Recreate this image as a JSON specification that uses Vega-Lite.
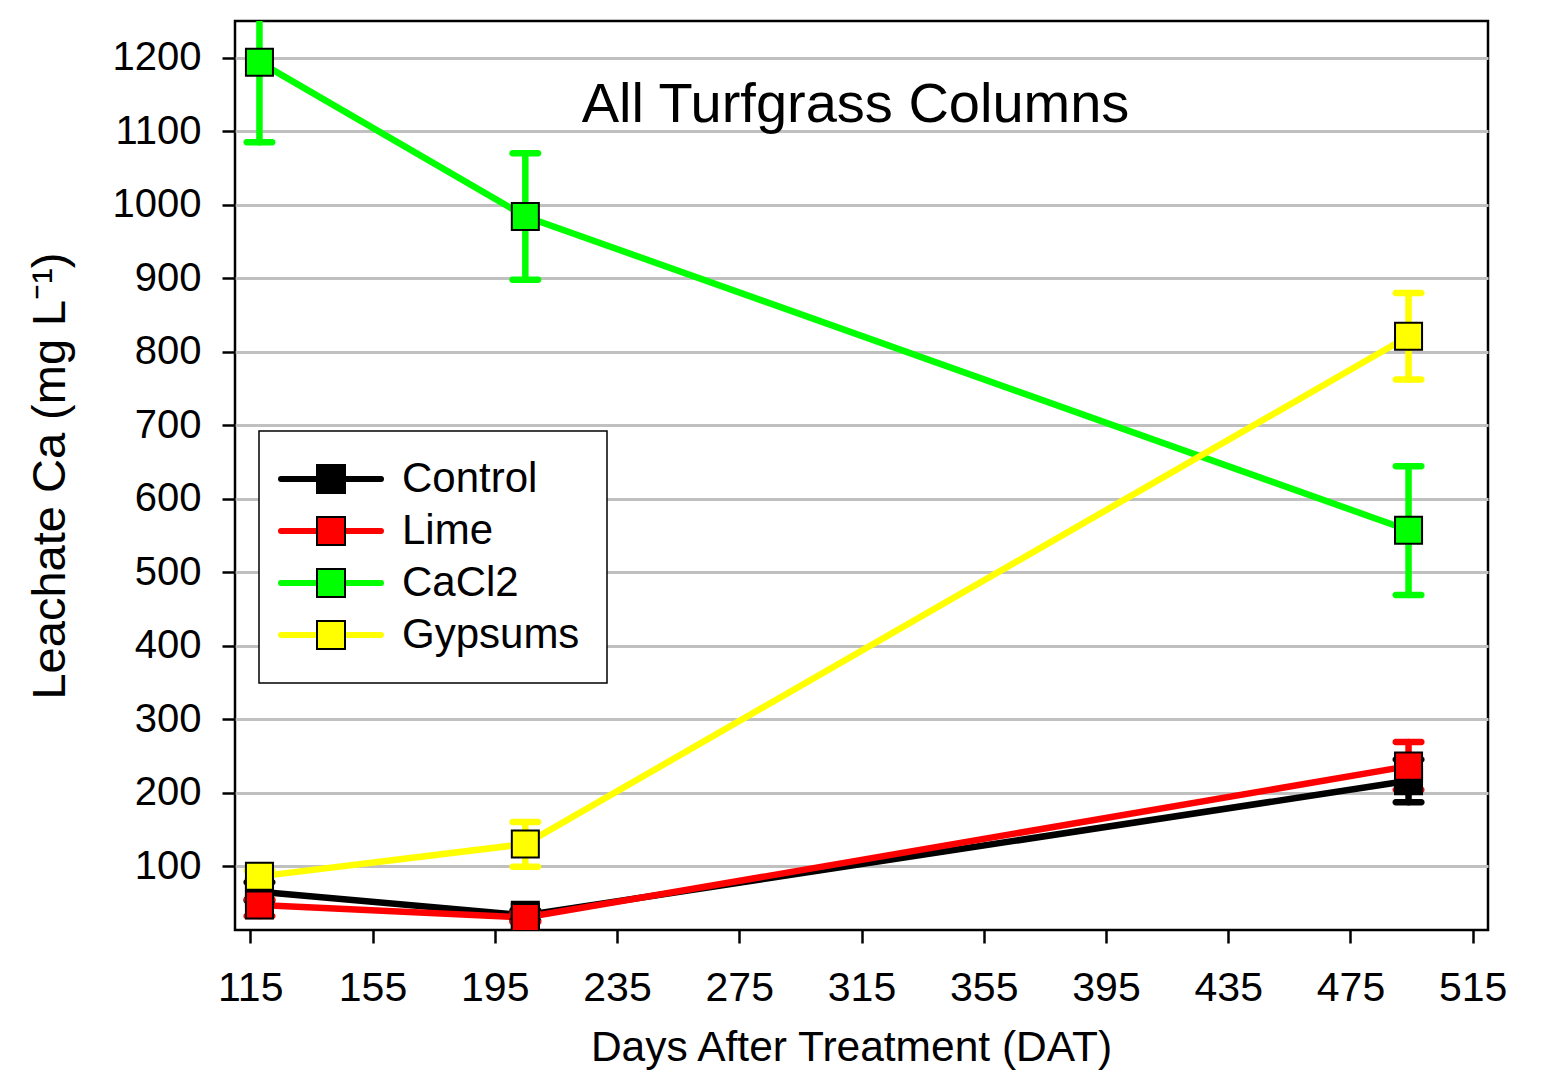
{
  "$schema": "https://vega.github.io/schema/vega-lite/v6.json",
  "width": 1253,
  "height": 909,
  "autosize": {"type": "none"},
  "padding": {"left": 235, "top": 21, "right": 66, "bottom": 146},
  "background": "white",
  "title": {
    "text": "All Turfgrass Columns",
    "font": "Liberation Sans",
    "fontSize": 56,
    "fontWeight": "normal",
    "color": "black",
    "anchor": "middle",
    "frame": "group",
    "baseline": "alphabetic",
    "offset": -157,
    "dx": -6
  },
  "config": {
    "view": {"stroke": "black", "strokeWidth": 2.5},
    "font": "Liberation Sans",
    "axis": {
      "labelFont": "Liberation Sans",
      "titleFont": "Liberation Sans",
      "labelColor": "black",
      "titleColor": "black",
      "titleFontWeight": "normal",
      "tickColor": "black",
      "tickWidth": 2.5,
      "tickSize": 13,
      "domain": false,
      "labelFlush": false,
      "labelOverlap": false
    }
  },
  "data": {
    "values": [
      {"series": "Control", "day": 118, "value": 65, "lo": 53, "hi": 78},
      {"series": "Control", "day": 205, "value": 33, "lo": 26, "hi": 40},
      {"series": "Control", "day": 494, "value": 216, "lo": 187, "hi": 245},
      {"series": "Lime", "day": 118, "value": 47, "lo": 32, "hi": 55},
      {"series": "Lime", "day": 205, "value": 30, "lo": 24, "hi": 36},
      {"series": "Lime", "day": 494, "value": 236, "lo": 204, "hi": 269},
      {"series": "CaCl2", "day": 118, "value": 1194, "lo": 1085, "hi": 1303},
      {"series": "CaCl2", "day": 205, "value": 984, "lo": 898, "hi": 1070},
      {"series": "CaCl2", "day": 494, "value": 557, "lo": 469, "hi": 644},
      {"series": "Gypsums", "day": 118, "value": 86, "lo": 78, "hi": 94},
      {"series": "Gypsums", "day": 205, "value": 130, "lo": 99, "hi": 160},
      {"series": "Gypsums", "day": 494, "value": 821, "lo": 762, "hi": 880}
    ]
  },
  "encoding": {
    "x": {
      "field": "day", "type": "quantitative",
      "scale": {"domain": [110, 520], "nice": false, "zero": false},
      "axis": {
        "values": [115, 155, 195, 235, 275, 315, 355, 395, 435, 475, 515],
        "format": "d",
        "grid": false,
        "labelFontSize": 41,
        "labelPadding": 25,
        "title": "Days After Treatment (DAT)",
        "titleFontSize": 42.5,
        "titlePadding": 18,
        "titleX": 616
      }
    },
    "y": {
      "field": "value", "type": "quantitative",
      "scale": {"domain": [13, 1250], "nice": false, "zero": false},
      "axis": {
        "values": [100, 200, 300, 400, 500, 600, 700, 800, 900, 1000, 1100, 1200],
        "format": "d",
        "grid": true,
        "gridColor": "#c0c0c0",
        "gridWidth": 3,
        "labelFontSize": 40,
        "labelPadding": 21,
        "title": "Leachate Ca (mg L⁻¹)",
        "titleFontSize": 47,
        "titlePadding": 38
      }
    }
  },
  "layer": [
    {
      "mark": {"type": "line", "strokeWidth": 6.5, "clip": true},
      "encoding": {
        "color": {
          "field": "series", "type": "nominal",
          "sort": ["Control", "Lime", "CaCl2", "Gypsums"],
          "scale": {"range": ["#000000", "#ff0000", "#00ff00", "#ffff00"]},
          "legend": {
            "orient": "none", "legendX": 24, "legendY": 410, "title": null,
            "symbolType": "M-2.778,0H2.778",
            "symbolSize": 1296,
            "symbolStrokeWidth": 6,
            "symbolOffset": 24,
            "labelOffset": 50,
            "labelLimit": 0,
            "labelFont": "Liberation Sans", "labelFontSize": 42, "labelColor": "black",
            "padding": 27, "rowPadding": 10,
            "strokeColor": "black", "fillColor": "white",
            "encode": {
              "symbols": {"update": {"strokeCap": {"value": "round"}}},
              "legend": {"update": {"strokeWidth": {"value": 1.5}}}
            }
          }
        }
      }
    },
    {
      "mark": {"type": "rule", "strokeWidth": 6.5, "clip": true, "strokeCap": "round"},
      "encoding": {
        "y": {"field": "lo", "type": "quantitative"},
        "y2": {"field": "hi"},
        "color": {"field": "series", "type": "nominal", "sort": ["Control", "Lime", "CaCl2", "Gypsums"], "legend": null}
      }
    },
    {
      "mark": {"type": "tick", "orient": "horizontal", "size": 32, "thickness": 6.5, "cornerRadius": 3, "opacity": 1, "clip": true},
      "encoding": {
        "y": {"field": "lo", "type": "quantitative"},
        "color": {"field": "series", "type": "nominal", "sort": ["Control", "Lime", "CaCl2", "Gypsums"], "legend": null}
      }
    },
    {
      "mark": {"type": "tick", "orient": "horizontal", "size": 32, "thickness": 6.5, "cornerRadius": 3, "opacity": 1, "clip": true},
      "encoding": {
        "y": {"field": "hi", "type": "quantitative"},
        "color": {"field": "series", "type": "nominal", "sort": ["Control", "Lime", "CaCl2", "Gypsums"], "legend": null}
      }
    },
    {
      "mark": {"type": "point", "shape": "square", "filled": true, "size": 730, "stroke": "black", "strokeWidth": 2, "opacity": 1, "clip": true},
      "encoding": {
        "fill": {
          "field": "series", "type": "nominal",
          "scale": {"domain": ["Control", "Lime", "CaCl2", "Gypsums"], "range": ["#000000", "#ff0000", "#00ff00", "#ffff00"]},
          "legend": {
            "orient": "none", "legendX": 24, "legendY": 410, "title": null,
            "symbolType": "M-0.7,-0.7H0.7V0.7H-0.7Z",
            "symbolSize": 1600,
            "symbolStrokeColor": "black",
            "symbolStrokeWidth": 2,
            "symbolOpacity": 1,
            "symbolOffset": 24,
            "labelOffset": 50,
            "labelLimit": 0,
            "labelExpr": "''",
            "labelFont": "Liberation Sans", "labelFontSize": 42,
            "padding": 27, "rowPadding": 10
          }
        }
      }
    }
  ]
}
